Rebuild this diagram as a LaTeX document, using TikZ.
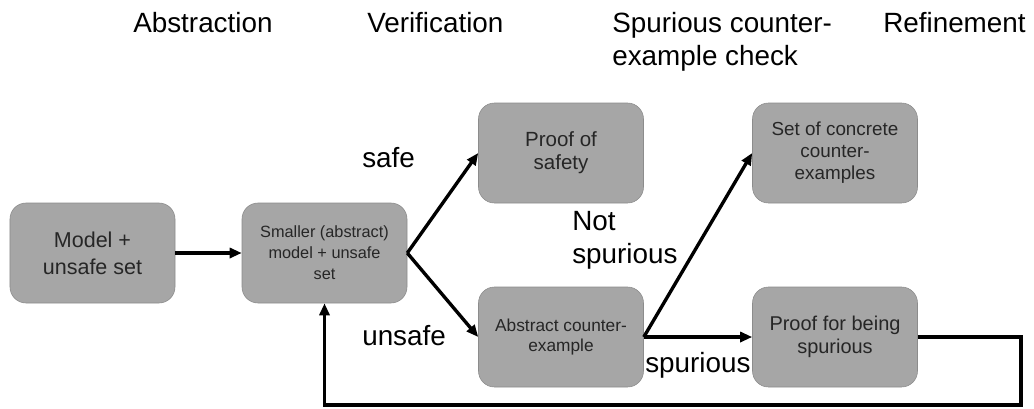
\documentclass[tikz,border=0pt]{standalone}
\usepackage{fontspec}
\setmainfont{Liberation Sans}
\usetikzlibrary{arrows.meta}

\begin{document}
\begin{tikzpicture}[x=0.25mm,y=-0.25mm,
  stage/.style={draw=black!45,fill=black!35,rounded corners=4mm,minimum width=41.25mm,minimum height=25mm,align=center,text=black!85,inner sep=1pt},
  flow/.style={-{Triangle[length=3mm,width=2.5mm]},line width=2.4pt},
  tag/.style={font=\fontsize{19.8}{23.4}\selectfont,align=left,inner sep=0pt}]
%%\draw[help lines] (0,0) grid[step=50] (1034,408);
\useasboundingbox (0,0) rectangle (1034,408);
%% column titles (base of a multi-line node is its last line)
\node [tag, anchor = base west] (habs) at (133,32) {Abstraction};
\node [tag, anchor = base west] (hver) at (367,32) {Verification};
\node [tag, anchor = base west] (hspur) at (612,65) {Spurious counter-\\example check};
\node [tag, anchor = base west] (href) at (883,32) {Refinement};
\node [stage, font=\fontsize{15.3}{19}\selectfont] (model) at (92.5,253) {Model +\\unsafe set};
\node [stage, font=\fontsize{11.6}{15}\selectfont] (abs) at (324.5,253) {Smaller (abstract)\\model + unsafe\\set};
\node [stage, font=\fontsize{14.6}{16.3}\selectfont] (safe) at (561,153) {Proof of\\safety};
\node [stage, font=\fontsize{12.3}{14.2}\selectfont] (cex) at (561,337) {Abstract counter-\\example};
\node [stage, font=\fontsize{13.4}{15.6}\selectfont] (concrete) at (835,153) {Set of concrete\\counter-\\examples};
\node [stage, font=\fontsize{14.2}{16.3}\selectfont] (spur) at (835,337) {Proof for being\\spurious};
\node [tag, anchor = base west] (lsafe) at (362,167) {safe};
\node [tag, anchor = base west] (lunsafe) at (362,345) {unsafe};
\node [tag, anchor = base west] (lnot) at (572,263) {Not\\spurious};
\node [tag, anchor = base west] (lspur) at (645,372) {spurious};
\draw [flow] (model) -- (abs);
\draw [flow] (abs.east) -- (safe.west);
\draw [flow] (abs.east) -- (cex.west);
\draw [flow] (cex.east) -- (concrete.west);
\draw [flow] (cex.east) -- (spur.west);
%% loop back for the next round
\coordinate (back) at (1021,405);
\draw [flow] (spur.east) -- (back |- spur.east) -- (back) -- (abs |- back) -- (abs.south);
\end{tikzpicture}
\end{document}
